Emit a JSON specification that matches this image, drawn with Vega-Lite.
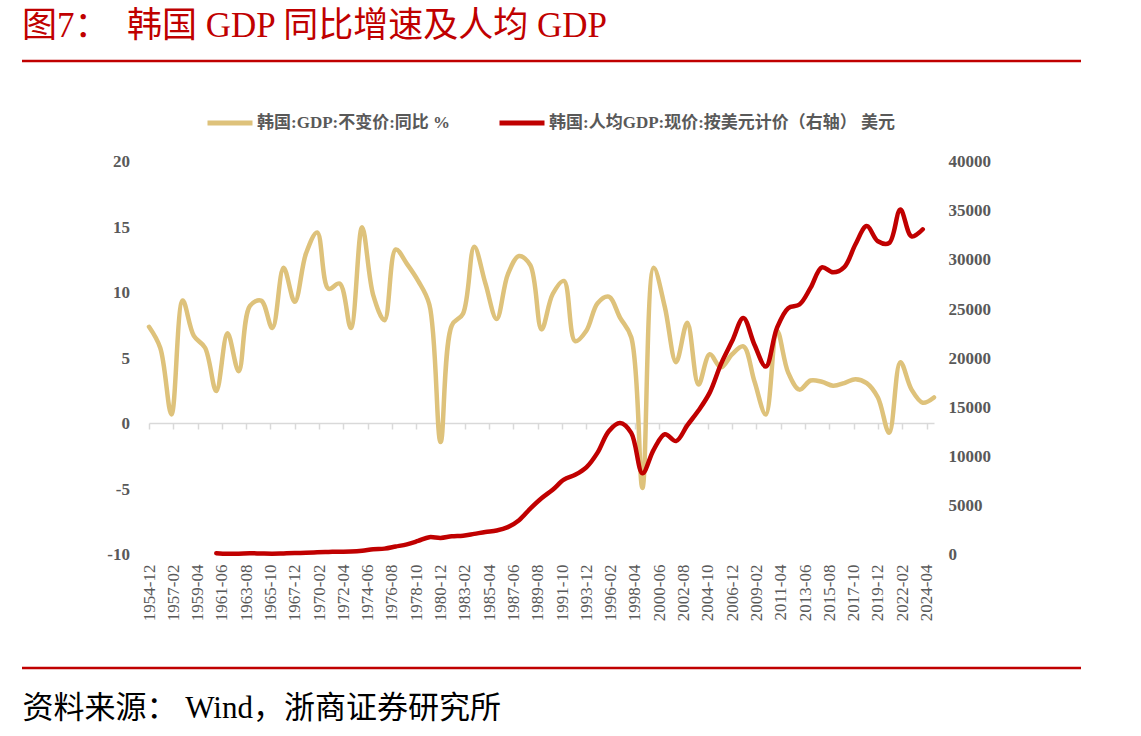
{
  "$schema": "https://vega.github.io/schema/vega-lite/v6.json",
  "width": 1059,
  "height": 607,
  "autosize": {"type": "none"},
  "padding": {"left": 22, "top": 61, "right": 60, "bottom": 68},
  "background": "white",
  "title": {
    "text": "图7：\u00a0\u00a0韩国 GDP 同比增速及人均 GDP",
    "anchor": "start",
    "frame": "group",
    "font": "Liberation Serif, Noto Sans CJK SC",
    "fontSize": 35,
    "fontWeight": "normal",
    "color": "#c00000",
    "offset": 17
  },
  "config": {
    "view": {"stroke": "#c00000", "strokeWidth": 2.5, "strokeDash": [1059, 607]},
    "axis": {"grid": false}
  },
  "datasets": {
    "growth": [
      {"date": "1954-12-01", "series": "韩国:GDP:不变价:同比 %", "value": 7.4},
      {"date": "1955-12-01", "series": "韩国:GDP:不变价:同比 %", "value": 5.8},
      {"date": "1956-12-01", "series": "韩国:GDP:不变价:同比 %", "value": 0.7},
      {"date": "1957-12-01", "series": "韩国:GDP:不变价:同比 %", "value": 9.4},
      {"date": "1958-12-01", "series": "韩国:GDP:不变价:同比 %", "value": 6.7},
      {"date": "1959-12-01", "series": "韩国:GDP:不变价:同比 %", "value": 5.8},
      {"date": "1960-12-01", "series": "韩国:GDP:不变价:同比 %", "value": 2.5},
      {"date": "1961-12-01", "series": "韩国:GDP:不变价:同比 %", "value": 6.9},
      {"date": "1962-12-01", "series": "韩国:GDP:不变价:同比 %", "value": 4.0},
      {"date": "1963-12-01", "series": "韩国:GDP:不变价:同比 %", "value": 9.0},
      {"date": "1964-12-01", "series": "韩国:GDP:不变价:同比 %", "value": 9.4},
      {"date": "1965-12-01", "series": "韩国:GDP:不变价:同比 %", "value": 7.3},
      {"date": "1966-12-01", "series": "韩国:GDP:不变价:同比 %", "value": 11.9},
      {"date": "1967-12-01", "series": "韩国:GDP:不变价:同比 %", "value": 9.3},
      {"date": "1968-12-01", "series": "韩国:GDP:不变价:同比 %", "value": 13.0},
      {"date": "1969-12-01", "series": "韩国:GDP:不变价:同比 %", "value": 14.6},
      {"date": "1970-12-01", "series": "韩国:GDP:不变价:同比 %", "value": 10.3},
      {"date": "1971-12-01", "series": "韩国:GDP:不变价:同比 %", "value": 10.7},
      {"date": "1972-12-01", "series": "韩国:GDP:不变价:同比 %", "value": 7.3},
      {"date": "1973-12-01", "series": "韩国:GDP:不变价:同比 %", "value": 15.0},
      {"date": "1974-12-01", "series": "韩国:GDP:不变价:同比 %", "value": 9.8},
      {"date": "1975-12-01", "series": "韩国:GDP:不变价:同比 %", "value": 7.9},
      {"date": "1976-12-01", "series": "韩国:GDP:不变价:同比 %", "value": 13.3},
      {"date": "1977-12-01", "series": "韩国:GDP:不变价:同比 %", "value": 12.2},
      {"date": "1978-12-01", "series": "韩国:GDP:不变价:同比 %", "value": 10.9},
      {"date": "1979-12-01", "series": "韩国:GDP:不变价:同比 %", "value": 9.1},
      {"date": "1980-12-01", "series": "韩国:GDP:不变价:同比 %", "value": -1.4},
      {"date": "1981-12-01", "series": "韩国:GDP:不变价:同比 %", "value": 7.5},
      {"date": "1982-12-01", "series": "韩国:GDP:不变价:同比 %", "value": 8.4},
      {"date": "1983-12-01", "series": "韩国:GDP:不变价:同比 %", "value": 13.5},
      {"date": "1984-12-01", "series": "韩国:GDP:不变价:同比 %", "value": 10.7},
      {"date": "1985-12-01", "series": "韩国:GDP:不变价:同比 %", "value": 8.0},
      {"date": "1986-12-01", "series": "韩国:GDP:不变价:同比 %", "value": 11.4},
      {"date": "1987-12-01", "series": "韩国:GDP:不变价:同比 %", "value": 12.8},
      {"date": "1988-12-01", "series": "韩国:GDP:不变价:同比 %", "value": 12.1},
      {"date": "1989-12-01", "series": "韩国:GDP:不变价:同比 %", "value": 7.2},
      {"date": "1990-12-01", "series": "韩国:GDP:不变价:同比 %", "value": 9.9},
      {"date": "1991-12-01", "series": "韩国:GDP:不变价:同比 %", "value": 10.9},
      {"date": "1992-12-01", "series": "韩国:GDP:不变价:同比 %", "value": 6.3},
      {"date": "1993-12-01", "series": "韩国:GDP:不变价:同比 %", "value": 7.1},
      {"date": "1994-12-01", "series": "韩国:GDP:不变价:同比 %", "value": 9.2},
      {"date": "1995-12-01", "series": "韩国:GDP:不变价:同比 %", "value": 9.7},
      {"date": "1996-12-01", "series": "韩国:GDP:不变价:同比 %", "value": 8.1},
      {"date": "1997-12-01", "series": "韩国:GDP:不变价:同比 %", "value": 6.6},
      {"date": "1998-12-01", "series": "韩国:GDP:不变价:同比 %", "value": -4.9},
      {"date": "1999-12-01", "series": "韩国:GDP:不变价:同比 %", "value": 11.9},
      {"date": "2000-12-01", "series": "韩国:GDP:不变价:同比 %", "value": 8.9},
      {"date": "2001-12-01", "series": "韩国:GDP:不变价:同比 %", "value": 4.7},
      {"date": "2002-12-01", "series": "韩国:GDP:不变价:同比 %", "value": 7.7},
      {"date": "2003-12-01", "series": "韩国:GDP:不变价:同比 %", "value": 3.0},
      {"date": "2004-12-01", "series": "韩国:GDP:不变价:同比 %", "value": 5.3},
      {"date": "2005-12-01", "series": "韩国:GDP:不变价:同比 %", "value": 4.3},
      {"date": "2006-12-01", "series": "韩国:GDP:不变价:同比 %", "value": 5.3},
      {"date": "2007-12-01", "series": "韩国:GDP:不变价:同比 %", "value": 5.9},
      {"date": "2008-12-01", "series": "韩国:GDP:不变价:同比 %", "value": 3.2},
      {"date": "2009-12-01", "series": "韩国:GDP:不变价:同比 %", "value": 0.7},
      {"date": "2010-12-01", "series": "韩国:GDP:不变价:同比 %", "value": 7.1},
      {"date": "2011-12-01", "series": "韩国:GDP:不变价:同比 %", "value": 3.9},
      {"date": "2012-12-01", "series": "韩国:GDP:不变价:同比 %", "value": 2.6},
      {"date": "2013-12-01", "series": "韩国:GDP:不变价:同比 %", "value": 3.3},
      {"date": "2014-12-01", "series": "韩国:GDP:不变价:同比 %", "value": 3.2},
      {"date": "2015-12-01", "series": "韩国:GDP:不变价:同比 %", "value": 2.9},
      {"date": "2016-12-01", "series": "韩国:GDP:不变价:同比 %", "value": 3.1},
      {"date": "2017-12-01", "series": "韩国:GDP:不变价:同比 %", "value": 3.4},
      {"date": "2018-12-01", "series": "韩国:GDP:不变价:同比 %", "value": 3.1},
      {"date": "2019-12-01", "series": "韩国:GDP:不变价:同比 %", "value": 2.0},
      {"date": "2020-12-01", "series": "韩国:GDP:不变价:同比 %", "value": -0.7},
      {"date": "2021-12-01", "series": "韩国:GDP:不变价:同比 %", "value": 4.7},
      {"date": "2022-12-01", "series": "韩国:GDP:不变价:同比 %", "value": 2.6},
      {"date": "2023-12-01", "series": "韩国:GDP:不变价:同比 %", "value": 1.6},
      {"date": "2024-12-01", "series": "韩国:GDP:不变价:同比 %", "value": 2.0}
    ],
    "gdppc": [
      {"date": "1960-12-01", "series": "韩国:人均GDP:现价:按美元计价（右轴） 美元", "value": 158},
      {"date": "1961-12-01", "series": "韩国:人均GDP:现价:按美元计价（右轴） 美元", "value": 94},
      {"date": "1962-12-01", "series": "韩国:人均GDP:现价:按美元计价（右轴） 美元", "value": 106},
      {"date": "1963-12-01", "series": "韩国:人均GDP:现价:按美元计价（右轴） 美元", "value": 146},
      {"date": "1964-12-01", "series": "韩国:人均GDP:现价:按美元计价（右轴） 美元", "value": 124},
      {"date": "1965-12-01", "series": "韩国:人均GDP:现价:按美元计价（右轴） 美元", "value": 109},
      {"date": "1966-12-01", "series": "韩国:人均GDP:现价:按美元计价（右轴） 美元", "value": 133},
      {"date": "1967-12-01", "series": "韩国:人均GDP:现价:按美元计价（右轴） 美元", "value": 161},
      {"date": "1968-12-01", "series": "韩国:人均GDP:现价:按美元计价（右轴） 美元", "value": 198},
      {"date": "1969-12-01", "series": "韩国:人均GDP:现价:按美元计价（右轴） 美元", "value": 243},
      {"date": "1970-12-01", "series": "韩国:人均GDP:现价:按美元计价（右轴） 美元", "value": 279},
      {"date": "1971-12-01", "series": "韩国:人均GDP:现价:按美元计价（右轴） 美元", "value": 301},
      {"date": "1972-12-01", "series": "韩国:人均GDP:现价:按美元计价（右轴） 美元", "value": 324},
      {"date": "1973-12-01", "series": "韩国:人均GDP:现价:按美元计价（右轴） 美元", "value": 406},
      {"date": "1974-12-01", "series": "韩国:人均GDP:现价:按美元计价（右轴） 美元", "value": 563},
      {"date": "1975-12-01", "series": "韩国:人均GDP:现价:按美元计价（右轴） 美元", "value": 617},
      {"date": "1976-12-01", "series": "韩国:人均GDP:现价:按美元计价（右轴） 美元", "value": 834},
      {"date": "1977-12-01", "series": "韩国:人均GDP:现价:按美元计价（右轴） 美元", "value": 1055},
      {"date": "1978-12-01", "series": "韩国:人均GDP:现价:按美元计价（右轴） 美元", "value": 1405},
      {"date": "1979-12-01", "series": "韩国:人均GDP:现价:按美元计价（右轴） 美元", "value": 1783},
      {"date": "1980-12-01", "series": "韩国:人均GDP:现价:按美元计价（右轴） 美元", "value": 1704},
      {"date": "1981-12-01", "series": "韩国:人均GDP:现价:按美元计价（右轴） 美元", "value": 1870},
      {"date": "1982-12-01", "series": "韩国:人均GDP:现价:按美元计价（右轴） 美元", "value": 1939},
      {"date": "1983-12-01", "series": "韩国:人均GDP:现价:按美元计价（右轴） 美元", "value": 2118},
      {"date": "1984-12-01", "series": "韩国:人均GDP:现价:按美元计价（右轴） 美元", "value": 2307},
      {"date": "1985-12-01", "series": "韩国:人均GDP:现价:按美元计价（右轴） 美元", "value": 2457},
      {"date": "1986-12-01", "series": "韩国:人均GDP:现价:按美元计价（右轴） 美元", "value": 2803},
      {"date": "1987-12-01", "series": "韩国:人均GDP:现价:按美元计价（右轴） 美元", "value": 3510},
      {"date": "1988-12-01", "series": "韩国:人均GDP:现价:按美元计价（右轴） 美元", "value": 4686},
      {"date": "1989-12-01", "series": "韩国:人均GDP:现价:按美元计价（右轴） 美元", "value": 5738},
      {"date": "1990-12-01", "series": "韩国:人均GDP:现价:按美元计价（右轴） 美元", "value": 6610},
      {"date": "1991-12-01", "series": "韩国:人均GDP:现价:按美元计价（右轴） 美元", "value": 7637},
      {"date": "1992-12-01", "series": "韩国:人均GDP:现价:按美元计价（右轴） 美元", "value": 8127},
      {"date": "1993-12-01", "series": "韩国:人均GDP:现价:按美元计价（右轴） 美元", "value": 8885},
      {"date": "1994-12-01", "series": "韩国:人均GDP:现价:按美元计价（右轴） 美元", "value": 10385},
      {"date": "1995-12-01", "series": "韩国:人均GDP:现价:按美元计价（右轴） 美元", "value": 12565},
      {"date": "1996-12-01", "series": "韩国:人均GDP:现价:按美元计价（右轴） 美元", "value": 13403},
      {"date": "1997-12-01", "series": "韩国:人均GDP:现价:按美元计价（右轴） 美元", "value": 12398},
      {"date": "1998-12-01", "series": "韩国:人均GDP:现价:按美元计价（右轴） 美元", "value": 8282},
      {"date": "1999-12-01", "series": "韩国:人均GDP:现价:按美元计价（右轴） 美元", "value": 10672},
      {"date": "2000-12-01", "series": "韩国:人均GDP:现价:按美元计价（右轴） 美元", "value": 12263},
      {"date": "2001-12-01", "series": "韩国:人均GDP:现价:按美元计价（右轴） 美元", "value": 11563},
      {"date": "2002-12-01", "series": "韩国:人均GDP:现价:按美元计价（右轴） 美元", "value": 13165},
      {"date": "2003-12-01", "series": "韩国:人均GDP:现价:按美元计价（右轴） 美元", "value": 14673},
      {"date": "2004-12-01", "series": "韩国:人均GDP:现价:按美元计价（右轴） 美元", "value": 16496},
      {"date": "2005-12-01", "series": "韩国:人均GDP:现价:按美元计价（右轴） 美元", "value": 19403},
      {"date": "2006-12-01", "series": "韩国:人均GDP:现价:按美元计价（右轴） 美元", "value": 21743},
      {"date": "2007-12-01", "series": "韩国:人均GDP:现价:按美元计价（右轴） 美元", "value": 24086},
      {"date": "2008-12-01", "series": "韩国:人均GDP:现价:按美元计价（右轴） 美元", "value": 21345},
      {"date": "2009-12-01", "series": "韩国:人均GDP:现价:按美元计价（右轴） 美元", "value": 19144},
      {"date": "2010-12-01", "series": "韩国:人均GDP:现价:按美元计价（右轴） 美元", "value": 23087},
      {"date": "2011-12-01", "series": "韩国:人均GDP:现价:按美元计价（右轴） 美元", "value": 25096},
      {"date": "2012-12-01", "series": "韩国:人均GDP:现价:按美元计价（右轴） 美元", "value": 25459},
      {"date": "2013-12-01", "series": "韩国:人均GDP:现价:按美元计价（右轴） 美元", "value": 27180},
      {"date": "2014-12-01", "series": "韩国:人均GDP:现价:按美元计价（右轴） 美元", "value": 29253},
      {"date": "2015-12-01", "series": "韩国:人均GDP:现价:按美元计价（右轴） 美元", "value": 28737},
      {"date": "2016-12-01", "series": "韩国:人均GDP:现价:按美元计价（右轴） 美元", "value": 29274},
      {"date": "2017-12-01", "series": "韩国:人均GDP:现价:按美元计价（右轴） 美元", "value": 31601},
      {"date": "2018-12-01", "series": "韩国:人均GDP:现价:按美元计价（右轴） 美元", "value": 33447},
      {"date": "2019-12-01", "series": "韩国:人均GDP:现价:按美元计价（右轴） 美元", "value": 31902},
      {"date": "2020-12-01", "series": "韩国:人均GDP:现价:按美元计价（右轴） 美元", "value": 31721},
      {"date": "2021-12-01", "series": "韩国:人均GDP:现价:按美元计价（右轴） 美元", "value": 35126},
      {"date": "2022-12-01", "series": "韩国:人均GDP:现价:按美元计价（右轴） 美元", "value": 32395},
      {"date": "2023-12-01", "series": "韩国:人均GDP:现价:按美元计价（右轴） 美元", "value": 33121}
    ]
  },
  "layer": [
    {
      "data": {"name": "growth"},
      "mark": {"type": "line", "strokeWidth": 4.5, "strokeCap": "round", "interpolate": "catmull-rom"},
      "encoding": {
        "x": {
          "field": "date",
          "type": "temporal",
          "scale": {
            "type": "utc",
            "domain": [{"year": 1954, "month": 12, "date": 1, "utc": true}, {"year": 2024, "month": 12, "date": 1, "utc": true}],
            "range": [127, 912]
          },
          "axis": {
            "orient": "bottom",
            "values": [
              {"year": 1954, "month": 12, "date": 1, "utc": true},
              {"year": 1957, "month": 2, "date": 1, "utc": true},
              {"year": 1959, "month": 4, "date": 1, "utc": true},
              {"year": 1961, "month": 6, "date": 1, "utc": true},
              {"year": 1963, "month": 8, "date": 1, "utc": true},
              {"year": 1965, "month": 10, "date": 1, "utc": true},
              {"year": 1967, "month": 12, "date": 1, "utc": true},
              {"year": 1970, "month": 2, "date": 1, "utc": true},
              {"year": 1972, "month": 4, "date": 1, "utc": true},
              {"year": 1974, "month": 6, "date": 1, "utc": true},
              {"year": 1976, "month": 8, "date": 1, "utc": true},
              {"year": 1978, "month": 10, "date": 1, "utc": true},
              {"year": 1980, "month": 12, "date": 1, "utc": true},
              {"year": 1983, "month": 2, "date": 1, "utc": true},
              {"year": 1985, "month": 4, "date": 1, "utc": true},
              {"year": 1987, "month": 6, "date": 1, "utc": true},
              {"year": 1989, "month": 8, "date": 1, "utc": true},
              {"year": 1991, "month": 10, "date": 1, "utc": true},
              {"year": 1993, "month": 12, "date": 1, "utc": true},
              {"year": 1996, "month": 2, "date": 1, "utc": true},
              {"year": 1998, "month": 4, "date": 1, "utc": true},
              {"year": 2000, "month": 6, "date": 1, "utc": true},
              {"year": 2002, "month": 8, "date": 1, "utc": true},
              {"year": 2004, "month": 10, "date": 1, "utc": true},
              {"year": 2006, "month": 12, "date": 1, "utc": true},
              {"year": 2009, "month": 2, "date": 1, "utc": true},
              {"year": 2011, "month": 4, "date": 1, "utc": true},
              {"year": 2013, "month": 6, "date": 1, "utc": true},
              {"year": 2015, "month": 8, "date": 1, "utc": true},
              {"year": 2017, "month": 10, "date": 1, "utc": true},
              {"year": 2019, "month": 12, "date": 1, "utc": true},
              {"year": 2022, "month": 2, "date": 1, "utc": true},
              {"year": 2024, "month": 4, "date": 1, "utc": true}
            ],
            "labelExpr": "utcFormat(datum.value, '%Y-%m')",
            "labelAngle": 270,
            "labelAlign": "right",
            "labelBaseline": "middle",
            "labelPadding": -104,
            "labelFont": "Liberation Serif",
            "labelFontSize": 17,
            "labelColor": "#595959",
            "labelOverlap": false,
            "labelFlush": false,
            "labelBound": false,
            "domain": false,
            "ticks": false,
            "tickSize": 0,
            "grid": false,
            "title": "资料来源：\u00a0Wind，浙商证券研究所",
            "titleX": 0,
            "titleY": 49,
            "titleAlign": "left",
            "titleAnchor": "start",
            "titleBaseline": "alphabetic",
            "titleFont": "Liberation Serif, Noto Sans CJK SC",
            "titleFontSize": 31,
            "titleFontWeight": "normal",
            "titleColor": "#000000"
          }
        },
        "y": {
          "field": "value",
          "type": "quantitative",
          "scale": {"domain": [-10, 20], "range": [493.7, 100.7], "nice": false, "zero": false},
          "axis": {
            "orient": "left",
            "offset": -125,
            "values": [-10, -5, 0, 5, 10, 15, 20],
            "labelExpr": "'' + datum.value",
            "domain": false,
            "ticks": false,
            "tickSize": 0,
            "grid": false,
            "labelPadding": 17.5,
            "labelFont": "Liberation Serif",
            "labelFontSize": 17,
            "labelFontWeight": "bold",
            "labelColor": "#595959",
            "title": null
          }
        },
        "color": {
          "field": "series",
          "type": "nominal",
          "scale": {
            "domain": ["韩国:GDP:不变价:同比 %", "韩国:人均GDP:现价:按美元计价（右轴） 美元"],
            "range": ["#dec27b", "#c00000"]
          },
          "legend": {
            "orient": "none",
            "legendX": 183,
            "legendY": 37,
            "direction": "horizontal",
            "title": null,
            "symbolType": "stroke",
            "symbolStrokeWidth": 5,
            "symbolSize": 2025,
            "labelFont": "Liberation Serif, Noto Sans CJK SC",
            "labelFontSize": 17,
            "labelFontWeight": "bold",
            "labelColor": "#595959",
            "labelLimit": 0,
            "labelOffset": 2,
            "columnPadding": 38
          }
        }
      }
    },
    {
      "data": {"name": "gdppc"},
      "mark": {"type": "line", "strokeWidth": 4.5, "strokeCap": "round", "interpolate": "catmull-rom"},
      "encoding": {
        "x": {
          "field": "date",
          "type": "temporal",
          "axis": {
            "orient": "bottom",
            "offset": -245,
            "values": [
              {"year": 1954, "month": 12, "date": 1, "utc": true},
              {"year": 1957, "month": 2, "date": 1, "utc": true},
              {"year": 1959, "month": 4, "date": 1, "utc": true},
              {"year": 1961, "month": 6, "date": 1, "utc": true},
              {"year": 1963, "month": 8, "date": 1, "utc": true},
              {"year": 1965, "month": 10, "date": 1, "utc": true},
              {"year": 1967, "month": 12, "date": 1, "utc": true},
              {"year": 1970, "month": 2, "date": 1, "utc": true},
              {"year": 1972, "month": 4, "date": 1, "utc": true},
              {"year": 1974, "month": 6, "date": 1, "utc": true},
              {"year": 1976, "month": 8, "date": 1, "utc": true},
              {"year": 1978, "month": 10, "date": 1, "utc": true},
              {"year": 1980, "month": 12, "date": 1, "utc": true},
              {"year": 1983, "month": 2, "date": 1, "utc": true},
              {"year": 1985, "month": 4, "date": 1, "utc": true},
              {"year": 1987, "month": 6, "date": 1, "utc": true},
              {"year": 1989, "month": 8, "date": 1, "utc": true},
              {"year": 1991, "month": 10, "date": 1, "utc": true},
              {"year": 1993, "month": 12, "date": 1, "utc": true},
              {"year": 1996, "month": 2, "date": 1, "utc": true},
              {"year": 1998, "month": 4, "date": 1, "utc": true},
              {"year": 2000, "month": 6, "date": 1, "utc": true},
              {"year": 2002, "month": 8, "date": 1, "utc": true},
              {"year": 2004, "month": 10, "date": 1, "utc": true},
              {"year": 2006, "month": 12, "date": 1, "utc": true},
              {"year": 2009, "month": 2, "date": 1, "utc": true},
              {"year": 2011, "month": 4, "date": 1, "utc": true},
              {"year": 2013, "month": 6, "date": 1, "utc": true},
              {"year": 2015, "month": 8, "date": 1, "utc": true},
              {"year": 2017, "month": 10, "date": 1, "utc": true},
              {"year": 2019, "month": 12, "date": 1, "utc": true},
              {"year": 2022, "month": 2, "date": 1, "utc": true},
              {"year": 2024, "month": 4, "date": 1, "utc": true}
            ],
            "labels": false,
            "domain": true,
            "domainColor": "#d9d9d9",
            "domainWidth": 1.5,
            "ticks": true,
            "tickSize": 6,
            "tickColor": "#d9d9d9",
            "tickWidth": 1.5,
            "grid": false,
            "title": null
          }
        },
        "y": {
          "field": "value",
          "type": "quantitative",
          "scale": {"domain": [0, 40000], "range": [493.7, 100.7], "nice": false, "zero": false},
          "axis": {
            "orient": "right",
            "offset": -147,
            "values": [0, 5000, 10000, 15000, 20000, 25000, 30000, 35000, 40000],
            "labelExpr": "'' + datum.value",
            "domain": false,
            "ticks": false,
            "tickSize": 0,
            "grid": false,
            "labelPadding": 14,
            "labelFont": "Liberation Serif",
            "labelFontSize": 17,
            "labelFontWeight": "bold",
            "labelColor": "#595959",
            "title": null
          }
        },
        "color": {"field": "series", "type": "nominal"}
      }
    }
  ],
  "resolve": {
    "scale": {"y": "independent"},
    "axis": {"x": "independent", "y": "independent"}
  }
}
